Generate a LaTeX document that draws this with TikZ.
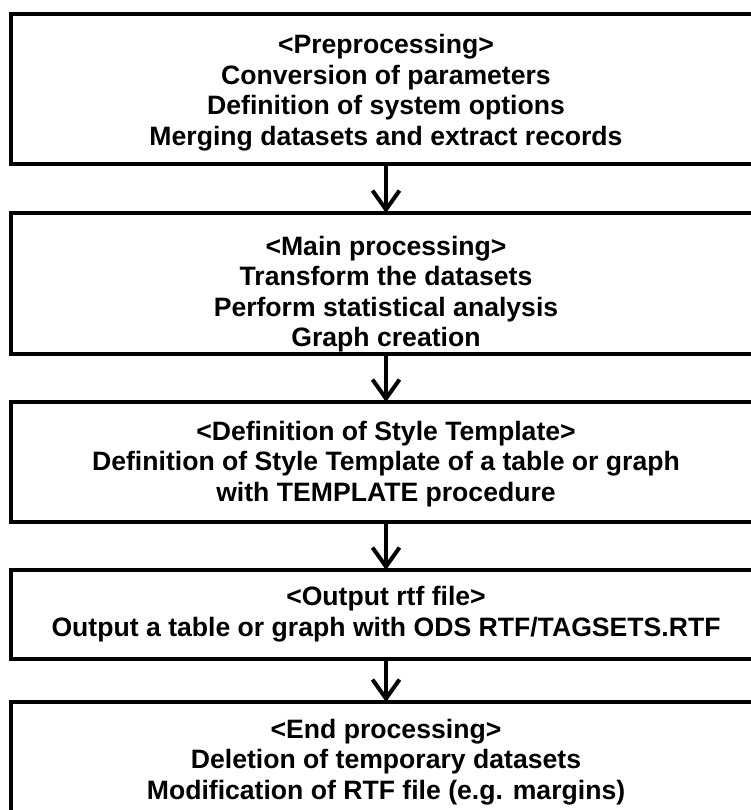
\documentclass[tikz,border=0pt]{standalone}
\usepackage{fontspec}
\setmainfont{Liberation Sans}
\usetikzlibrary{arrows.meta}
\begin{document}
\begin{tikzpicture}[x=1pt,y=-1pt,
 box/.style={draw, line width=3.5pt, rectangle, minimum width=750pt, inner sep=0pt, outer sep=0pt, anchor=north west},
 txt/.style={align=center, font=\fontsize{26.6}{30.5}\selectfont\bfseries, inner sep=0pt},
 flow/.style={line width=4pt, -{Straight Barb[length=19pt,width=27pt]}}]
\useasboundingbox (0,0) rectangle (751,810);
\clip (0,0) rectangle (751,810);
\fill[white] (0,0) rectangle (751,810);
\coordinate (ax) at (386,0);
\node[box, minimum height=150pt] (b1) at (11,14) {};
\node[box, minimum height=141pt] (b2) at (11,213) {};
\node[box, minimum height=120pt] (b3) at (11,402) {};
\node[box, minimum height=89pt] (b4) at (11,570) {};
\node[box, minimum height=140pt] (b5) at (11,702) {};
\node[txt] (t1) at (386,92.5) {<Preprocessing>\\Conversion of parameters\\Definition of system options\\Merging datasets and extract records};
\begin{scope}
\clip (11,213) rectangle (761,353);
\node[txt] (t2) at (386,294) {<Main processing>\\Transform the datasets\\Perform statistical analysis\\Graph creation};
\end{scope}
\node[txt] (t3) at (386,464) {<Definition of Style Template>\\Definition of Style Template of a table or graph\\with TEMPLATE procedure};
\node[txt] (t4) at (386,614) {<Output rtf file>\\Output a table or graph with ODS RTF/TAGSETS.RTF};
\node[txt] (t5) at (386,762) {<End processing>\\Deletion of temporary datasets\\Modification of RTF file (e.g. margins)};
\draw[flow] (ax |- b1.south) -- (ax |- b2.north);
\draw[flow] (ax |- b2.south) -- (ax |- b3.north);
\draw[flow] (ax |- b3.south) -- (ax |- b4.north);
\draw[flow] (ax |- b4.south) -- (ax |- b5.north);
\end{tikzpicture}
\end{document}
